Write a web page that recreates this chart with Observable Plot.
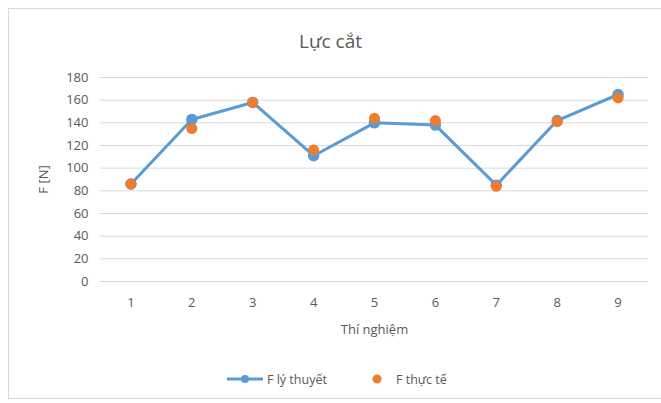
<!DOCTYPE html>
<html>
<head>
<meta charset="utf-8">
<script src="https://cdn.jsdelivr.net/npm/d3@7"></script>
<script src="https://cdn.jsdelivr.net/npm/@observablehq/plot@0.6"></script>
<style>
  html, body { margin: 0; padding: 0; background: #fff; }
  #wrap { position: relative; width: 661px; height: 403px; overflow: hidden; font-family: "Open Sans", sans-serif; color: #595959; }
  #frame { position: absolute; left: 8px; top: 8px; width: 700px; height: 391px; border: 1px solid #d9d9d9; box-sizing: border-box; }
  #title { position: absolute; left: 0; width: 661px; top: 28px; text-align: center; font-size: 19px; color: #595959; }
  #chart { position: absolute; left: 0; top: 60px; }
  #legend { position: absolute; top: 369px; left: 0; width: 661px; height: 20px; font-size: 12.5px; color: #595959; }
  #legend .item { position: absolute; top: 0; display: flex; align-items: center; height: 20px; }
</style>
</head>
<body>
<div id="wrap">
  <div id="frame"></div>
  <div id="title">Lực cắt</div>
  <div id="chart"></div>
  <div id="legend"></div>
</div>
<script>
const experiments = [1, 2, 3, 4, 5, 6, 7, 8, 9];
const fTheory = [86, 143, 158, 111, 140, 138, 85, 142, 165];
const fActual = [86, 135, 158, 116, 144, 142, 84, 141, 162];
const yTicks = [0, 20, 40, 60, 80, 100, 120, 140, 160, 180];
const seriesNames = ["F lý thuyết", "F thực tế"];
const colors = ["#5b9bd5", "#ed7d31"];

const theoryData = experiments.map((e, i) => ({e, v: fTheory[i]}));
const actualData = experiments.map((e, i) => ({e, v: fActual[i]}));

const chart = Plot.plot({
  width: 661,
  height: 285,
  marginTop: 17,
  marginBottom: 64,
  marginLeft: 100,
  marginRight: 13,
  style: {fontFamily: "Open Sans, sans-serif", fontSize: "13px", color: "#595959", background: "transparent"},
  x: {type: "linear", domain: [0.5, experiments.length + 0.5]},
  y: {domain: [0, 180], ticks: yTicks},
  marks: [
    Plot.gridY(yTicks, {stroke: "#d9d9d9", strokeOpacity: 1, strokeWidth: 1}),
    Plot.axisY(yTicks, {tickSize: 0, tickPadding: 12, label: "F [N]", labelAnchor: "center", labelArrow: "none", labelOffset: 62, fill: "#595959"}),
    Plot.axisX(experiments, {tickSize: 0, tickPadding: 16, tickFormat: d => String(d), label: "Thí nghiệm", labelAnchor: "center", labelArrow: "none", labelOffset: 52, fill: "#595959", fontSize: 13}),
    Plot.line(theoryData, {x: "e", y: "v", stroke: colors[0], strokeWidth: 3}),
    Plot.dot(theoryData, {x: "e", y: "v", r: 5, fill: colors[0], stroke: colors[0]}),
    Plot.dot(actualData, {x: "e", y: "v", r: 5.5, fill: colors[1], stroke: "none"})
  ]
});
document.getElementById("chart").appendChild(chart);

// Legend
const legend = document.getElementById("legend");
const positions = [227, 370];
seriesNames.forEach((name, i) => {
  const item = document.createElement("div");
  item.className = "item";
  item.style.left = positions[i] + "px";
  const sw = d3.create("svg").attr("width", i === 0 ? 40 : 26).attr("height", 20);
  if (i === 0) {
    sw.append("line").attr("x1", 0).attr("x2", 36).attr("y1", 10).attr("y2", 10).attr("stroke", colors[0]).attr("stroke-width", 3);
    sw.append("circle").attr("cx", 18).attr("cy", 10).attr("r", 4).attr("fill", colors[0]);
  } else {
    sw.append("circle").attr("cx", 7).attr("cy", 10).attr("r", 4.5).attr("fill", colors[1]);
  }
  item.appendChild(sw.node());
  const t = document.createElement("span");
  t.textContent = name;
  item.appendChild(t);
  legend.appendChild(item);
});
</script>
</body>
</html>
